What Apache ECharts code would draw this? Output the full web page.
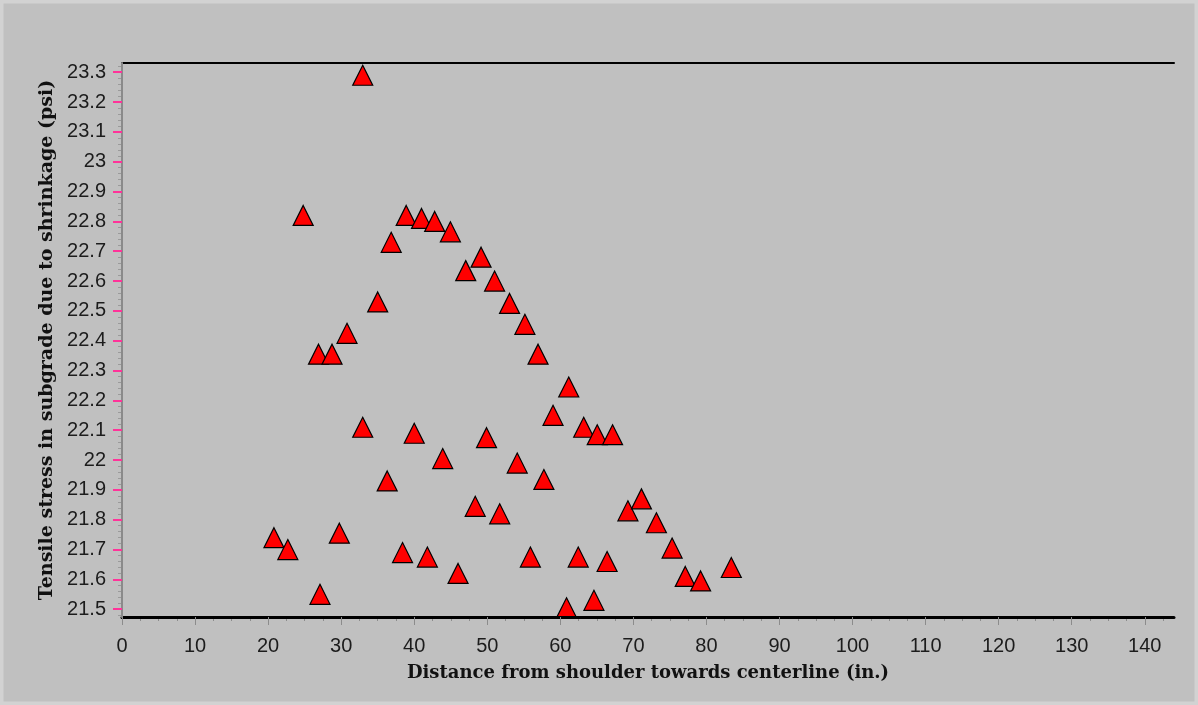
<!DOCTYPE html>
<html><head><meta charset="utf-8">
<script src="https://cdn.jsdelivr.net/npm/echarts@6/dist/echarts.min.js"></script>
<style>html,body{margin:0;padding:0;background:#c0c0c0;}#c{width:1198px;height:705px;}</style>
</head><body><div id="c"></div>
<script>
// Data
const distance = [20.8, 22.7, 24.8, 26.9, 27.1, 28.75, 29.75, 30.8, 32.95, 32.95,
  35.0, 36.3, 36.85, 38.4, 38.9, 40.0, 41.0, 41.8, 42.8, 43.9,
  44.95, 46.0, 47.05, 48.35, 49.15, 49.9, 51.0, 51.7, 53.05, 54.1,
  55.15, 55.9, 56.95, 57.75, 59.0, 60.85, 61.15, 62.45, 63.2, 64.6,
  65.05, 66.4, 67.15, 69.25, 71.1, 73.15, 75.3, 77.1, 79.2, 83.4];
const stress = [21.74, 21.70, 22.82, 22.355, 21.55, 22.355, 21.755, 22.425, 23.29, 22.11,
  22.53, 21.93, 22.73, 21.69, 22.82, 22.09, 22.81, 21.675, 22.80, 22.005,
  22.765, 21.62, 22.635, 21.845, 22.68, 22.075, 22.60, 21.82, 22.525, 21.99,
  22.455, 21.675, 22.355, 21.935, 22.15, 21.505, 22.245, 21.675, 22.11, 21.53,
  22.085, 21.66, 22.085, 21.83, 21.87, 21.79, 21.705, 21.61, 21.595, 21.64];
const xTicks = [0, 10, 20, 30, 40, 50, 60, 70, 80, 90, 100, 110, 120, 130, 140];
const yTicks = [21.5, 21.6, 21.7, 21.8, 21.9, 22, 22.1, 22.2, 22.3, 22.4, 22.5, 22.6, 22.7, 22.8, 22.9, 23, 23.1, 23.2, 23.3];
const xTitle = 'Distance from shoulder towards centerline (in.)';
const yTitle = 'Tensile stress in subgrade due to shrinkage (psi)';
const X_MIN = 0, X_MAX = 144, Y_MIN = 21.474, Y_MAX = 23.331;

// minor tick positions (styling only)
const xMinor = [];
for (let i = 0; i * 2.5 <= X_MAX; i++) { if (i % 4 !== 0) xMinor.push(i * 2.5); }
const yMinor = [];
for (let i = Math.ceil(Y_MIN / 0.02); i * 0.02 <= Y_MAX; i++) { if (i % 5 !== 0) yMinor.push(+(i * 0.02).toFixed(2)); }

const points = distance.map((d, i) => [d, stress[i]]);
const labelFont = { fontFamily: 'Liberation Sans, Arial, sans-serif', fontSize: 20, color: '#1c1c1c' };
const titleFontY = { fontFamily: 'DejaVu Serif, serif', fontWeight: 'bold', fontSize: 19, color: '#111' };
const titleFontX = { fontFamily: 'DejaVu Serif, serif', fontWeight: 'bold', fontSize: 18, color: '#111' };

const chart = echarts.init(document.getElementById('c'), null, { renderer: 'canvas' });
chart.setOption({
  backgroundColor: '#c0c0c0',
  animation: false,
  graphic: [{ type: 'rect', silent: true, z: -10, shape: { x: 0, y: 0, width: 1198, height: 705 }, style: { fill: 'none', stroke: '#d2d2d2', lineWidth: 7 } }],
  grid: { left: 122, top: 63, right: 24, bottom: 88 },
  xAxis: [
    { type: 'value', min: X_MIN, max: X_MAX, position: 'bottom', z: 5,
      axisLine: { lineStyle: { color: '#000', width: 3 } },
      axisTick: { customValues: xTicks, length: 8, lineStyle: { color: '#8c8c8c', width: 1 } },
      axisLabel: Object.assign({ customValues: xTicks, margin: 19 }, labelFont),
      splitLine: { show: false },
      name: xTitle, nameLocation: 'middle', nameGap: 47, nameTextStyle: titleFontX },
    { type: 'value', min: X_MIN, max: X_MAX, position: 'bottom',
      axisLine: { show: false },
      axisTick: { customValues: xMinor, length: 4, lineStyle: { color: '#8c8c8c', width: 1 } },
      axisLabel: { show: false }, splitLine: { show: false } },
    { type: 'value', min: X_MIN, max: X_MAX, position: 'top',
      axisLine: { lineStyle: { color: '#000', width: 2 } },
      axisTick: { show: false }, axisLabel: { show: false }, splitLine: { show: false } }
  ],
  yAxis: [
    { type: 'value', min: Y_MIN, max: Y_MAX, position: 'left', z: 6,
      axisLine: { lineStyle: { color: '#8a8a8a', width: 2 } },
      axisTick: { customValues: yTicks, length: 9, lineStyle: { color: '#ff3399', width: 2 } },
      axisLabel: Object.assign({ customValues: yTicks, margin: 16 }, labelFont),
      splitLine: { show: false },
      name: yTitle, nameLocation: 'middle', nameGap: 64, nameRotate: 90, nameTextStyle: titleFontY },
    { type: 'value', min: Y_MIN, max: Y_MAX, position: 'left',
      axisLine: { show: false },
      axisTick: { customValues: yMinor, length: 4, lineStyle: { color: '#9a9a9a', width: 1 } },
      axisLabel: { show: false }, splitLine: { show: false } },
    { type: 'value', min: Y_MIN, max: Y_MAX, position: 'right',
      axisLine: { lineStyle: { color: '#000', width: 2 } },
      axisTick: { show: false }, axisLabel: { show: false }, splitLine: { show: false } }
  ],
  series: [{
    type: 'scatter', xAxisIndex: 0, yAxisIndex: 0,
    symbol: 'triangle', symbolSize: 20,
    itemStyle: { color: '#ff0000', borderColor: '#000', borderWidth: 1.2, opacity: 1 },
    data: points
  }]
});
</script></body></html>
